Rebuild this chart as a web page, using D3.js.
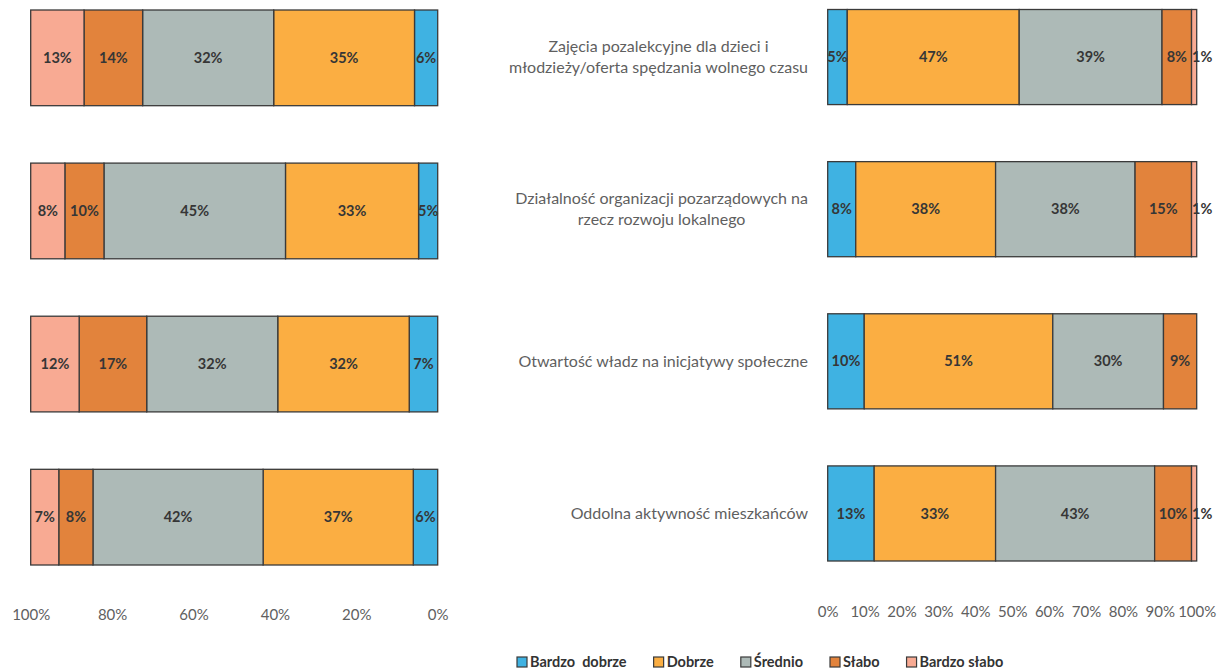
<!DOCTYPE html>
<html><head><meta charset="utf-8">
<script src="https://cdn.jsdelivr.net/npm/d3@7"></script>
<style>
html,body{margin:0;padding:0;background:#fff;}
svg{display:block;}
text{font-family:Lato,"Open Sans",sans-serif;}
</style></head>
<body>
<svg id="c" width="1222" height="670"></svg>
<script>
// ---- data ----
const series = ["Bardzo  dobrze", "Dobrze", "Średnio", "Słabo", "Bardzo słabo"];
const colors = ["#3fb2e2", "#fbae42", "#adbab7", "#e2833c", "#f8aa93"];
const categories = [
  "Zajęcia pozalekcyjne dla dzieci i\nmłodzieży/oferta spędzania wolnego czasu",
  "Działalność organizacji pozarządowych na\nrzecz rozwoju lokalnego",
  "Otwartość władz na inicjatywy społeczne",
  "Oddolna aktywność mieszkańców"
];
// left panel (reversed axis), values per category in series order
const leftBardzoDobrze = [5.7, 4.7, 7.0, 6.0];
const leftDobrze       = [34.6, 32.7, 32.3, 36.9];
const leftSrednio      = [32.2, 44.6, 32.2, 41.8];
const leftSlabo        = [14.4, 9.6, 16.6, 8.4];
const leftBardzoSlabo  = [13.1, 8.4, 11.9, 6.9];
// right panel
const rightBardzoDobrze = [5.3, 7.6, 9.9, 12.6];
const rightDobrze       = [46.6, 37.9, 51.1, 32.9];
const rightSrednio      = [38.7, 37.8, 30.0, 43.1];
const rightSlabo        = [8.0, 15.3, 9.0, 10.0];
const rightBardzoSlabo  = [1.4, 1.4, 0, 1.4];
const leftTicks  = [1, 0.8, 0.6, 0.4, 0.2, 0];
const rightTicks = [0, 0.1, 0.2, 0.3, 0.4, 0.5, 0.6, 0.7, 0.8, 0.9, 1];

const leftData = categories.map((c, i) => ({cat: c, vals: [leftBardzoDobrze[i], leftDobrze[i], leftSrednio[i], leftSlabo[i], leftBardzoSlabo[i]]}));
const rightData = categories.map((c, i) => ({cat: c, vals: [rightBardzoDobrze[i], rightDobrze[i], rightSrednio[i], rightSlabo[i], rightBardzoSlabo[i]]}));

const svg = d3.select("#c");
const pct = d3.format(".0%");

function panel(data, x, y) {
  const g = svg.append("g");
  data.forEach(d => {
    let acc = 0;
    const segs = d.vals.map((v, i) => { const s = {x0: acc / 100, x1: (acc + v) / 100, v: v, i: i}; acc += v; return s; });
    const row = g.append("g");
    const vis = segs.filter(s => s.v > 0);
    row.selectAll("rect").data(vis).join("rect")
      .attr("x", s => Math.min(x(s.x0), x(s.x1)))
      .attr("width", s => Math.abs(x(s.x1) - x(s.x0)))
      .attr("y", y(d.cat)).attr("height", y.bandwidth())
      .attr("fill", s => colors[s.i]).attr("stroke", "#3a3a3a").attr("stroke-width", 1.3);
    row.selectAll("text").data(vis).join("text")
      .attr("x", s => s.v < 2 ? x(s.x0) + 0.5 : (x(s.x0) + x(s.x1)) / 2)
      .attr("y", y(d.cat) + y.bandwidth() / 2)
      .attr("dy", "0.35em").attr("text-anchor", s => s.v < 2 ? "start" : "middle")
      .attr("font-size", 14.5).attr("font-weight", "bold").attr("fill", "#363636")
      .text(s => pct(Math.round(s.v) / 100));
  });
  return g;
}

// left panel
const xL = d3.scaleLinear().domain([0, 1]).range([437.7, 30.7]);
const yL = d3.scaleBand().domain(categories).range([10, 565]).paddingInner(0.375).paddingOuter(0);
panel(leftData, xL, yL);
const axL = svg.append("g").attr("transform", "translate(0,615)")
  .call(d3.axisBottom(xL).tickValues(leftTicks).tickFormat(d3.format(".0%")).tickSize(0).tickPadding(0));
axL.select(".domain").remove();
axL.selectAll("text").attr("font-size", 15).attr("fill", "#606060").attr("dy", "0.35em").attr("font-family", "Lato");

// right panel
const xR = d3.scaleLinear().domain([0, 1]).range([827.7, 1196.7]);
const yR = d3.scaleBand().domain(categories).range([9.5, 561]).paddingInner(0.375).paddingOuter(0);
panel(rightData, xR, yR);
const axR = svg.append("g").attr("transform", "translate(0,612)")
  .call(d3.axisBottom(xR).tickValues(rightTicks).tickFormat(d3.format(".0%")).tickSize(0).tickPadding(0));
axR.select(".domain").remove();
axR.selectAll("text").attr("font-size", 15).attr("fill", "#606060").attr("dy", "0.35em").attr("font-family", "Lato");

// category labels (right-aligned block, centred lines)
const labG = svg.append("g");
categories.forEach(c => {
  const lines = c.split("\n");
  const t = labG.append("text").attr("font-size", 16).attr("fill", "#5f5f5f")
    .attr("text-anchor", "middle").attr("font-family", "'Open Sans', sans-serif");
  const lh = 21;
  const cy = yR(c) + yR.bandwidth() / 2;
  const spans = lines.map((l, i) => t.append("tspan").text(l)
    .attr("y", cy + (i - (lines.length - 1) / 2) * lh).attr("dy", "0.35em"));
  const w = d3.max(spans, s => s.node().getComputedTextLength());
  const right = 808;
  spans.forEach(s => s.attr("x", right - w / 2));
});

// legend
const leg = svg.append("g").attr("transform", "translate(0,662)");
let lx = 517;
series.forEach((s, i) => {
  leg.append("rect").attr("x", lx).attr("y", -5).attr("width", 10).attr("height", 10)
    .attr("fill", colors[i]).attr("stroke", "#3a3a3a").attr("stroke-width", 1.2);
  const t = leg.append("text").attr("x", lx + 13).attr("dy", "0.35em")
    .attr("font-size", 14.5).attr("font-weight", "bold").attr("fill", "#333")
    .style("white-space", "pre").text(s);
  lx += 13 + t.node().getComputedTextLength() + 27;
});
</script>
</body></html>
